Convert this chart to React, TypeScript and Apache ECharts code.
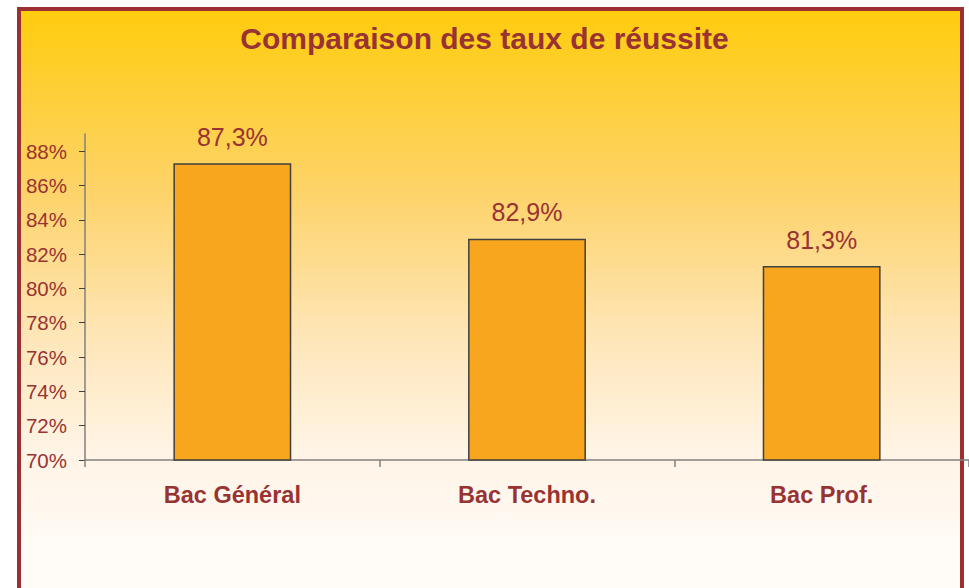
import React, { useEffect, useRef } from "react";
import * as echarts from "echarts";

const categories = ["Bac Général", "Bac Techno.", "Bac Prof."];
const rates = [87.3, 82.9, 81.3];
const yTicks = [70, 72, 74, 76, 78, 80, 82, 84, 86, 88];
const yMin = 70;
const yMax = 89;
const titleText = "Comparaison des taux de réussite";

const RED = "#993333";
const FONT = "'Liberation Sans', Arial, sans-serif";

export default function App() {
  const ref = useRef<HTMLDivElement>(null);
  useEffect(() => {
    if (!ref.current) return;
    const chart = echarts.init(ref.current, null, { renderer: "svg" });
    chart.setOption({
      animation: false,
      backgroundColor: "transparent",
      title: {
        text: titleText,
        left: "center",
        top: 18,
        textStyle: { color: RED, fontSize: 30, fontWeight: "bold", fontFamily: FONT },
      },
      grid: { left: 85, right: 0, top: 134, bottom: 128 },
      xAxis: {
        type: "category",
        data: categories,
        axisLine: { show: true, lineStyle: { color: "#808080", width: 1.5 } },
        axisTick: { show: true, length: 7, lineStyle: { color: "#808080", width: 1.5 } },
        axisLabel: {
          color: RED,
          fontSize: 23.5,
          fontWeight: "bold",
          fontFamily: FONT,
          margin: 23,
        },
      },
      yAxis: {
        type: "value",
        min: yMin,
        max: yMax,
        interval: 2,
        splitLine: { show: false },
        axisLine: { show: true, lineStyle: { color: "#808080", width: 1.5 } },
        axisTick: {
          show: true,
          length: 6,
          customValues: yTicks,
          lineStyle: { color: "#404040", width: 1 },
        },
        axisLabel: {
          customValues: yTicks,
          color: RED,
          fontSize: 20.5,
          fontFamily: FONT,
          margin: 18,
          formatter: (v: number) => `${v}%`,
        },
      },
      series: [
        {
          type: "bar",
          data: rates,
          barWidth: "40%",
          itemStyle: { color: "#F8A61E", borderColor: "#404040", borderWidth: 1.5 },
          label: {
            show: true,
            position: "top",
            distance: 14,
            color: RED,
            fontSize: 25,
            fontFamily: FONT,
            formatter: (p: any) => `${Number(p.value).toFixed(1).replace(".", ",")}%`,
          },
        },
      ],
    });
    return () => chart.dispose();
  }, []);

  return (
    <div
      style={{
        position: "absolute",
        left: 0,
        top: 0,
        width: 969,
        height: 588,
        overflow: "hidden",
        background: "#ffffff",
      }}
    >
      <div
        style={{
          position: "absolute",
          left: 17,
          top: 7,
          width: 947,
          height: 660,
          boxSizing: "border-box",
          border: "4px solid #9B2F34",
          background:
            "linear-gradient(to bottom, #FFCC0E 0%, #FDD36A 28%, #FEE6B8 50%, #FFF4E6 68%, #FFFBF6 82%, #FFFEFC 100%)",
        }}
      />
      <div ref={ref} style={{ position: "absolute", left: 0, top: 0, width: 969, height: 588 }} />
    </div>
  );
}
